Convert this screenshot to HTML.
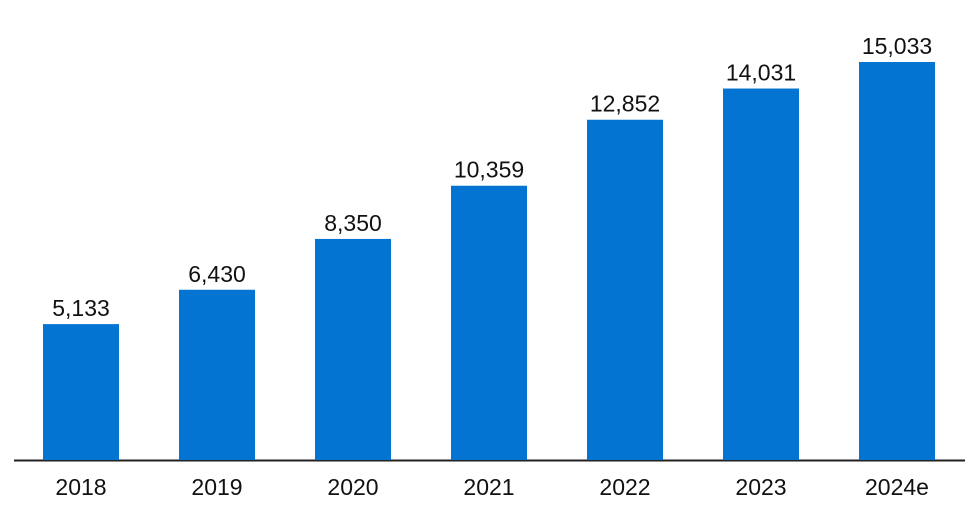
<!DOCTYPE html>
<html><head><meta charset="utf-8">
<style>
html,body{margin:0;padding:0;background:#fff;}
svg{display:block;font-family:"Liberation Sans",sans-serif;}
</style></head>
<body>
<svg id="chart" width="978" height="515" viewBox="0 0 978 515">
<line x1="14" y1="460.5" x2="965" y2="460.5" stroke="#222" stroke-width="2"/>
</svg>
<script>
const categories = ["2018","2019","2020","2021","2022","2023","2024e"];
const values = [5133, 6430, 8350, 10359, 12852, 14031, 15033];
const valueLabels = ["5,133","6,430","8,350","10,359","12,852","14,031","15,033"];

const svg = document.getElementById('chart');
const NS = 'http://www.w3.org/2000/svg';
const baseY = 460;
const pxPerUnit = 398 / 15033;
const x0 = 81, step = 136, barW = 76;
function xScale(i){ return x0 + i*step; }
function yScale(v){ return baseY - v*pxPerUnit; }

categories.forEach((c,i)=>{
  const cx = xScale(i);
  const top = yScale(values[i]);
  const r = document.createElementNS(NS,'rect');
  
  
  r.setAttribute('x', cx - barW/2);
  r.setAttribute('y', top);
  r.setAttribute('width', barW);
  r.setAttribute('height', baseY - top);
  r.setAttribute('fill', '#0474d2');
  svg.appendChild(r);

  const t = document.createElementNS(NS,'text');
  
  
  t.setAttribute('x', cx);
  t.setAttribute('y', top - 8);
  t.setAttribute('text-anchor', 'middle');
  t.setAttribute('font-size', '23');
  t.setAttribute('fill', '#111');
  t.textContent = valueLabels[i];
  svg.appendChild(t);

  const l = document.createElementNS(NS,'text');
  
  
  l.setAttribute('x', cx);
  l.setAttribute('y', 495);
  l.setAttribute('text-anchor', 'middle');
  l.setAttribute('font-size', '23');
  l.setAttribute('fill', '#111');
  l.textContent = c;
  svg.appendChild(l);
});
</script>
</body></html>
